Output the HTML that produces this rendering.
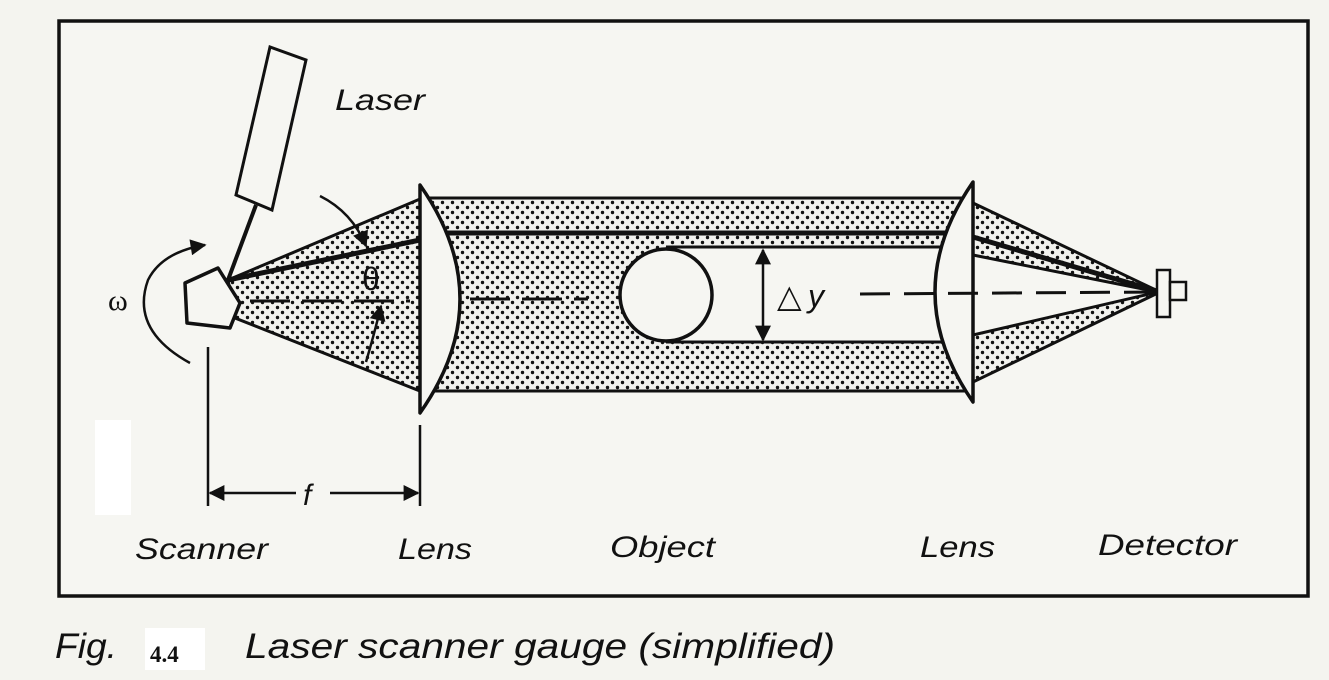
<!DOCTYPE html>
<html><head><meta charset="utf-8"><style>
html,body{margin:0;padding:0;background:#f4f4ef;}
svg{display:block}
text{font-family:"Liberation Sans",sans-serif;font-style:italic;fill:#111}
</style></head><body>
<svg width="1329" height="680" viewBox="0 0 1329 680" xmlns="http://www.w3.org/2000/svg">
<defs>
<pattern id="dots" width="10" height="10" patternUnits="userSpaceOnUse">
<rect width="10" height="10" fill="#f2f2ee"/>
<circle cx="2.5" cy="2.5" r="1.7" fill="#111"/>
<circle cx="7.5" cy="7.5" r="1.7" fill="#111"/>
</pattern>
<marker id="ahb" viewBox="0 0 10 10" refX="9" refY="5" markerWidth="20" markerHeight="16" orient="auto-start-reverse" markerUnits="userSpaceOnUse">
<path d="M0,0 L10,5 L0,10 z" fill="#111"/>
</marker>
</defs>
<rect x="0" y="0" width="1329" height="680" fill="#f4f4ef"/>
<rect x="59" y="21" width="1249" height="575" fill="#f6f6f2" stroke="#111" stroke-width="3.5"/>
<rect x="95" y="420" width="36" height="95" fill="#fff"/>

<polygon points="228,280 420,199 420,391 235,318" fill="url(#dots)" stroke="#111" stroke-width="3"/>
<rect x="420" y="198" width="553" height="193" fill="url(#dots)"/>
<line x1="420" y1="198" x2="973" y2="198" stroke="#111" stroke-width="3"/>
<line x1="420" y1="391" x2="973" y2="391" stroke="#111" stroke-width="3"/>
<rect x="666" y="247" width="307" height="95" fill="#f6f6f2"/>
<line x1="666" y1="247" x2="973" y2="247" stroke="#111" stroke-width="3"/>
<line x1="666" y1="342" x2="973" y2="342" stroke="#111" stroke-width="3"/>
<circle cx="666" cy="295" r="46" fill="#f6f6f2" stroke="#111" stroke-width="3.5"/>
<line x1="420" y1="233" x2="973" y2="233" stroke="#111" stroke-width="5"/>
<line x1="228" y1="280" x2="420" y2="240" stroke="#111" stroke-width="5"/>

<polygon points="973,203 1160,292 973,382" fill="url(#dots)" stroke="#111" stroke-width="3"/>
<polygon points="973,255 1158,292 973,335" fill="#f6f6f2" stroke="#111" stroke-width="3"/>
<line x1="973" y1="237" x2="1160" y2="292" stroke="#111" stroke-width="5"/>

<path d="M420,185 Q500,299 420,413 Z" fill="#f6f6f2" stroke="#111" stroke-width="3.5" stroke-linejoin="round"/>
<path d="M973,182 Q897,292 973,402 Z" fill="#f6f6f2" stroke="#111" stroke-width="3.5" stroke-linejoin="round"/>

<line x1="250" y1="301" x2="410" y2="301" stroke="#111" stroke-width="3" stroke-dasharray="40,12"/>
<line x1="470" y1="299" x2="588" y2="299" stroke="#111" stroke-width="3" stroke-dasharray="40,12"/>
<line x1="860" y1="294" x2="1155" y2="292" stroke="#111" stroke-width="3" stroke-dasharray="30,14"/>

<rect x="1157" y="270" width="13" height="47" fill="#f6f6f2" stroke="#111" stroke-width="2.5"/>
<rect x="1170" y="282" width="16" height="18" fill="#f6f6f2" stroke="#111" stroke-width="2.5"/>

<polygon points="185,283 218,268 240,303 230,328 187,323" fill="#f6f6f2" stroke="#111" stroke-width="3.5" stroke-linejoin="round"/>
<line x1="256" y1="205" x2="228" y2="280" stroke="#111" stroke-width="4"/>
<polygon points="236,195 272,210 306,60 270,47" fill="#f6f6f2" stroke="#111" stroke-width="3"/>

<path d="M320,196 Q352,212 366,246" fill="none" stroke="#111" stroke-width="2.5" marker-end="url(#ahb)"/>
<path d="M366,362 Q374,335 381,306" fill="none" stroke="#111" stroke-width="2.5" marker-end="url(#ahb)"/>
<text x="362" y="290" font-size="32" style="font-style:normal">θ</text>

<path d="M190,363 Q130,330 148,280 Q162,252 205,245" fill="none" stroke="#111" stroke-width="2.5" marker-end="url(#ahb)"/>
<text x="108" y="310" font-size="30" style="font-style:normal;font-family:'Liberation Serif',serif">ω</text>

<line x1="763" y1="250" x2="763" y2="340" stroke="#111" stroke-width="2.5" marker-start="url(#ahb)" marker-end="url(#ahb)"/>
<text x="777" y="307" font-size="32" style="font-style:normal">△</text>
<text x="808" y="307" font-size="32">y</text>

<line x1="208" y1="347" x2="208" y2="506" stroke="#111" stroke-width="2.5"/>
<line x1="420" y1="425" x2="420" y2="506" stroke="#111" stroke-width="2.5"/>
<line x1="210" y1="493" x2="296" y2="493" stroke="#111" stroke-width="2.5" marker-start="url(#ahb)"/>
<line x1="330" y1="493" x2="418" y2="493" stroke="#111" stroke-width="2.5" marker-end="url(#ahb)"/>
<text x="303" y="505" font-size="30">f</text>

<text x="335" y="110" font-size="30" textLength="90" lengthAdjust="spacingAndGlyphs">Laser</text>
<text x="135" y="559" font-size="30" textLength="133" lengthAdjust="spacingAndGlyphs">Scanner</text>
<text x="398" y="559" font-size="30" textLength="74" lengthAdjust="spacingAndGlyphs">Lens</text>
<text x="610" y="557" font-size="30" textLength="105" lengthAdjust="spacingAndGlyphs">Object</text>
<text x="920" y="557" font-size="30" textLength="75" lengthAdjust="spacingAndGlyphs">Lens</text>
<text x="1098" y="555" font-size="30" textLength="139" lengthAdjust="spacingAndGlyphs">Detector</text>

<rect x="145" y="628" width="60" height="42" fill="#fff"/>
<text x="55" y="658" font-size="35" textLength="62" lengthAdjust="spacingAndGlyphs">Fig.</text>
<text x="150" y="662" font-size="23" style="font-style:normal;font-weight:bold;font-family:'Liberation Serif',serif">4.4</text>
<text x="245" y="658" font-size="35" textLength="590" lengthAdjust="spacingAndGlyphs">Laser scanner gauge (simplified)</text>
</svg>
</body></html>
